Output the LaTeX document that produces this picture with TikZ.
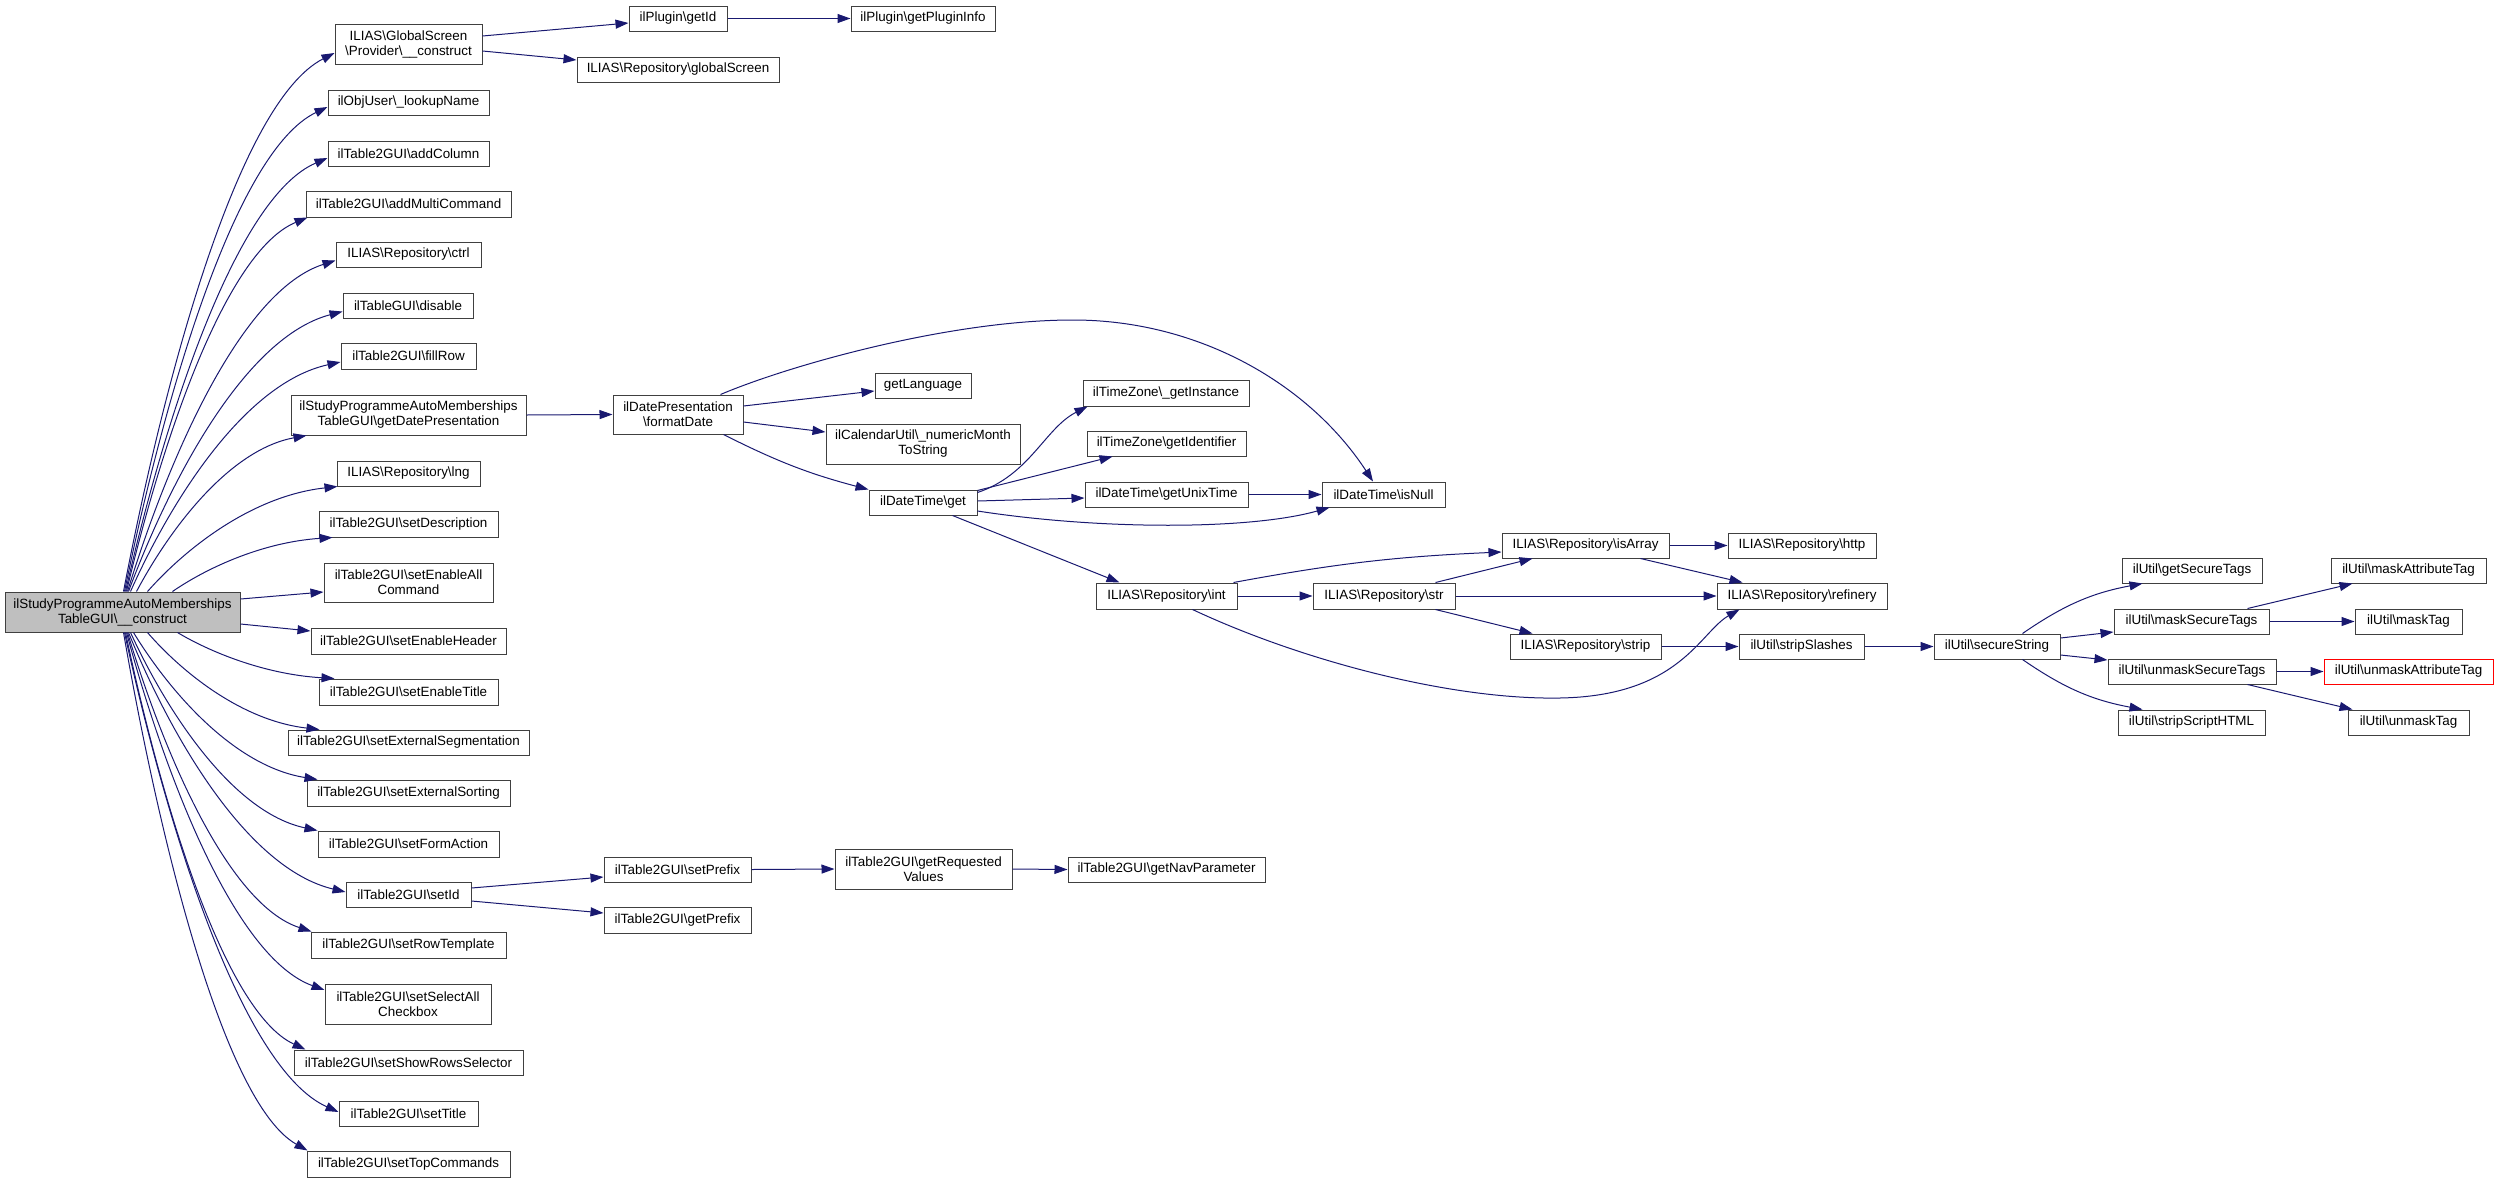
\documentclass[tikz,border=0pt]{standalone}
\usepackage{fontspec}
\newfontfamily\dfont{Liberation Sans}
\usetikzlibrary{arrows.meta,calc}
\definecolor{edgeblue}{HTML}{191970}
\definecolor{nodegray}{HTML}{BFBFBF}
\definecolor{bordergray}{HTML}{404040}
\newcommand\bsl{\textbackslash}
\newcommand\mkbox[7][]{\node[box,#1,minimum width={(#5-#3)*1pt},minimum height={(#6-#4)*1pt}] (#2) at ({(#3+#5)/2},{-(#4+#6)/2}) {#7};}
\tikzset{
  box/.style={draw=bordergray, line width=1pt, rectangle, inner sep=0pt, align=center,
    font=\dfont\fontsize{13.4}{15}\selectfont, text=black, fill=white},
  conn/.style={draw=edgeblue, line width=1pt, -{Triangle[length=13pt,width=9pt]}},
  fan/.style={to path={let \p1=(\tikztostart), \p2=(\tikztotarget) in
    .. controls ({\x1+0.2*(\x2-\x1)},{\y1+0.41*(\y2-\y1)}) and ({\x2-0.45*(\x2-\x1)},{\y2-0.09*(\y2-\y1)}) .. (\p2) \tikztonodes}}
}
\begin{document}
\begin{tikzpicture}[x=1pt,y=1pt]
\useasboundingbox (0,0) rectangle (2499,-1183);
% main
\mkbox[fill=nodegray]{M}{5}{592}{240}{632}{ilStudyProgrammeAutoMemberships\\TableGUI\bsl\_\_construct}
% column 1
\mkbox{GS}{335}{24}{482}{64}{ILIAS\bsl{}GlobalScreen\\\bsl{}Provider\bsl\_\_construct}
\mkbox{LN}{328}{90}{489}{115}{ilObjUser\bsl\_lookupName}
\mkbox{AC}{328}{141}{489}{166}{ilTable2GUI\bsl{}addColumn}
\mkbox{AMC}{306}{191}{511}{217}{ilTable2GUI\bsl{}addMultiCommand}
\mkbox{CT}{336}{242}{481}{267}{ILIAS\bsl{}Repository\bsl{}ctrl}
\mkbox{DIS}{343}{293}{473}{318}{ilTableGUI\bsl{}disable}
\mkbox{FR}{341}{343}{476}{369}{ilTable2GUI\bsl{}fillRow}
\mkbox{GDP}{291}{395}{526}{435}{ilStudyProgrammeAutoMemberships\\TableGUI\bsl{}getDatePresentation}
\mkbox{LNG}{337}{461}{480}{486}{ILIAS\bsl{}Repository\bsl{}lng}
\mkbox{SD}{319}{511}{498}{537}{ilTable2GUI\bsl{}setDescription}
\mkbox{SEA}{324}{563}{493}{602}{ilTable2GUI\bsl{}setEnableAll\\Command}
\mkbox{SEH}{311}{628}{506}{654}{ilTable2GUI\bsl{}setEnableHeader}
\mkbox{SET}{319}{679}{498}{705}{ilTable2GUI\bsl{}setEnableTitle}
\mkbox{SES}{288}{730}{529}{755}{ilTable2GUI\bsl{}setExternalSegmentation}
\mkbox{SXS}{307}{780}{510}{806}{ilTable2GUI\bsl{}setExternalSorting}
\mkbox{SFA}{318}{831}{499}{857}{ilTable2GUI\bsl{}setFormAction}
\mkbox{SID}{346}{882}{471}{907}{ilTable2GUI\bsl{}setId}
\mkbox{SRT}{311}{932}{506}{958}{ilTable2GUI\bsl{}setRowTemplate}
\mkbox{SSA}{325}{984}{491}{1024}{ilTable2GUI\bsl{}setSelectAll\\Checkbox}
\mkbox{SRS}{294}{1050}{523}{1075}{ilTable2GUI\bsl{}setShowRowsSelector}
\mkbox{STI}{339}{1101}{478}{1126}{ilTable2GUI\bsl{}setTitle}
\mkbox{STC}{307}{1151}{510}{1177}{ilTable2GUI\bsl{}setTopCommands}
% further nodes
\mkbox{GID}{629}{6}{727}{31}{ilPlugin\bsl{}getId}
\mkbox{GPI}{851}{6}{995}{31}{ilPlugin\bsl{}getPluginInfo}
\mkbox{GSC}{577}{57}{779}{82}{ILIAS\bsl{}Repository\bsl{}globalScreen}
\mkbox{FD}{613}{395}{743}{434}{ilDatePresentation\\\bsl{}formatDate}
\mkbox{GL}{875}{373}{971}{398}{getLanguage}
\mkbox{CU}{826}{424}{1020}{464}{ilCalendarUtil\bsl\_numericMonth\\ToString}
\mkbox{DTG}{869}{490}{977}{515}{ilDateTime\bsl{}get}
\mkbox{GTI}{1083}{380}{1249}{406}{ilTimeZone\bsl\_getInstance}
\mkbox{GTID}{1087}{431}{1246}{456}{ilTimeZone\bsl{}getIdentifier}
\mkbox{GUT}{1085}{482}{1248}{507}{ilDateTime\bsl{}getUnixTime}
\mkbox{ISN}{1322}{482}{1445}{507}{ilDateTime\bsl{}isNull}
\mkbox{RINT}{1096}{583}{1237}{609}{ILIAS\bsl{}Repository\bsl{}int}
\mkbox{RSTR}{1313}{583}{1455}{609}{ILIAS\bsl{}Repository\bsl{}str}
\mkbox{RISA}{1502}{533}{1669}{558}{ILIAS\bsl{}Repository\bsl{}isArray}
\mkbox{RSTP}{1510}{634}{1661}{659}{ILIAS\bsl{}Repository\bsl{}strip}
\mkbox{HTTP}{1728}{533}{1876}{558}{ILIAS\bsl{}Repository\bsl{}http}
\mkbox{REF}{1717}{583}{1887}{609}{ILIAS\bsl{}Repository\bsl{}refinery}
\mkbox{SSL}{1739}{634}{1864}{659}{ilUtil\bsl{}stripSlashes}
\mkbox{SS}{1934}{634}{2060}{659}{ilUtil\bsl{}secureString}
\mkbox{GST}{2122}{558}{2262}{583}{ilUtil\bsl{}getSecureTags}
\mkbox{MST}{2114}{609}{2269}{634}{ilUtil\bsl{}maskSecureTags}
\mkbox{UST}{2108}{659}{2276}{684}{ilUtil\bsl{}unmaskSecureTags}
\mkbox{SSH}{2118}{710}{2265}{735}{ilUtil\bsl{}stripScriptHTML}
\mkbox{MAT}{2331}{558}{2486}{583}{ilUtil\bsl{}maskAttributeTag}
\mkbox{MT}{2355}{609}{2462}{634}{ilUtil\bsl{}maskTag}
\mkbox[draw=red]{UAT}{2324}{659}{2493}{684}{ilUtil\bsl{}unmaskAttributeTag}
\mkbox{UT}{2348}{710}{2469}{735}{ilUtil\bsl{}unmaskTag}
\mkbox{SP}{604}{857}{751}{882}{ilTable2GUI\bsl{}setPrefix}
\mkbox{GP}{604}{907}{751}{933}{ilTable2GUI\bsl{}getPrefix}
\mkbox{GRV}{835}{849}{1012}{889}{ilTable2GUI\bsl{}getRequested\\Values}
\mkbox{GNP}{1068}{857}{1265}{882}{ilTable2GUI\bsl{}getNavParameter}
% fan edges from main node (upwards)
\draw[conn] ([xshift=1]M.north) to[fan] ([yshift=-9]GS.west);
\draw[conn] ([xshift=2]M.north) to[fan] ([yshift=-4.5]LN.west);
\draw[conn] ([xshift=3]M.north) to[fan] ([yshift=-4.5]AC.west);
\draw[conn] ([xshift=4]M.north) to[fan] ([xshift=2]AMC.south west);
\draw[conn] ([xshift=5]M.north) to[fan] ([yshift=-6]CT.west);
\draw[conn] ([xshift=6]M.north) to[fan] ([yshift=-6]DIS.west);
\draw[conn] ([xshift=8]M.north) to[fan] ([yshift=-6]FR.west);
\draw[conn] ([xshift=14]M.north) to[fan] ([xshift=16]GDP.south west);
\draw[conn] ([xshift=25]M.north) to[fan] ([xshift=1]LNG.south west);
\draw[conn] ([xshift=50]M.north) to[fan] ([xshift=14]SD.south west);
\draw[conn] ([yshift=13]M.east) -- ([yshift=-9.5]SEA.west);
\draw[conn] ([yshift=-12]M.east) -- ([yshift=10]SEH.west);
% fan edges (downwards)
\draw[conn] ([xshift=55]M.south) to[fan] ([xshift=16]SET.north west);
\draw[conn] ([xshift=25]M.south) to[fan] ([xshift=32]SES.north west);
\draw[conn] ([xshift=11]M.south) to[fan] ([xshift=11]SXS.north west);
\draw[conn] ([xshift=8]M.south) to[fan] (SFA.north west);
\draw[conn] ([xshift=6]M.south) to[fan] ([yshift=2.5]SID.west);
\draw[conn] ([xshift=5]M.south) to[fan] ([xshift=1]SRT.north west);
\draw[conn] ([xshift=4]M.south) to[fan] ([yshift=14]SSA.west);
\draw[conn] ([xshift=3]M.south) to[fan] ([xshift=12]SRS.north west);
\draw[conn] ([xshift=2]M.south) to[fan] ([yshift=1.5]STI.west);
\draw[conn] ([xshift=1]M.south) to[fan] ([xshift=1]STC.north west);
% other edges
\draw[conn] ([yshift=8]GS.east) -- ([yshift=-4.5]GID.west);
\draw[conn] ([yshift=-7]GS.east) -- ([yshift=9.5]GSC.west);
\draw[conn] (GID.east) -- (GPI.west);
\draw[conn] (GDP.east) -- (FD.west);
\draw[conn] ([yshift=8.5]FD.east) -- ([yshift=-5.5]GL.west);
\draw[conn] ([yshift=-7.5]FD.east) -- ([yshift=12]CU.west);
\draw[conn] ([xshift=-20]FD.south east) to[bend right=6] (DTG.north west);
\draw[conn] ([xshift=-23]FD.north east) .. controls (790,-365) and (950,-320) .. (1073,-320)
   .. controls (1200,-320) and (1310,-385) .. ([xshift=-10.5]ISN.north);
\draw[conn] ([yshift=-3]DTG.north east) .. controls (1030,-475) and (1045,-428) .. ([xshift=5]GTI.south west);
\draw[conn] ([yshift=-1]DTG.north east) -- ([xshift=26]GTID.south west);
\draw[conn] ([yshift=1.5]DTG.east) -- ([yshift=-3.5]GUT.west);
\draw[conn] ([yshift=-8.5]DTG.east) .. controls (1100,-530) and (1250,-530) .. ([xshift=8]ISN.south west);
\draw[conn] ([xshift=-25]DTG.south east) -- ([xshift=24]RINT.north west);
\draw[conn] (GUT.east) -- (ISN.west);
\draw[conn] ([xshift=-4]RINT.north east) to[bend left=4] ([yshift=-6.5]RISA.west);
\draw[conn] (RINT.east) -- (RSTR.west);
\draw[conn] ([xshift=-45]RINT.south east) .. controls (1300,-660) and (1450,-700) .. (1560,-698)
   .. controls (1680,-696) and (1700,-632) .. ([xshift=23]REF.south west);
\draw[conn] ([xshift=-20]RSTR.north east) -- ([xshift=31]RISA.south west);
\draw[conn] (RSTR.east) -- (REF.west);
\draw[conn] ([xshift=-20]RSTR.south east) -- ([xshift=23]RSTP.north west);
\draw[conn] (RISA.east) -- (HTTP.west);
\draw[conn] ([xshift=-29]RISA.south east) -- ([xshift=26]REF.north west);
\draw[conn] (RSTP.east) -- (SSL.west);
\draw[conn] (SSL.east) -- (SS.west);
\draw[conn] ([xshift=-38]SS.north east) to[bend left=12] ([xshift=21]GST.south west);
\draw[conn] ([yshift=8.5]SS.east) -- ([yshift=-10.5]MST.west);
\draw[conn] ([yshift=-8.5]SS.east) -- ([yshift=11.5]UST.west);
\draw[conn] ([xshift=-38]SS.south east) to[bend right=12] ([xshift=25]SSH.north west);
\draw[conn] ([xshift=-22]MST.north east) -- ([xshift=22]MAT.south west);
\draw[conn] (MST.east) -- (MT.west);
\draw[conn] (UST.east) -- (UAT.west);
\draw[conn] ([xshift=-29]UST.south east) -- ([xshift=5]UT.north west);
\draw[conn] ([yshift=6.5]SID.east) -- ([yshift=-7.5]SP.west);
\draw[conn] ([yshift=-6.5]SID.east) -- ([yshift=7]GP.west);
\draw[conn] (SP.east) -- (GRV.west);
\draw[conn] (GRV.east) -- (GNP.west);
\end{tikzpicture}
\end{document}
